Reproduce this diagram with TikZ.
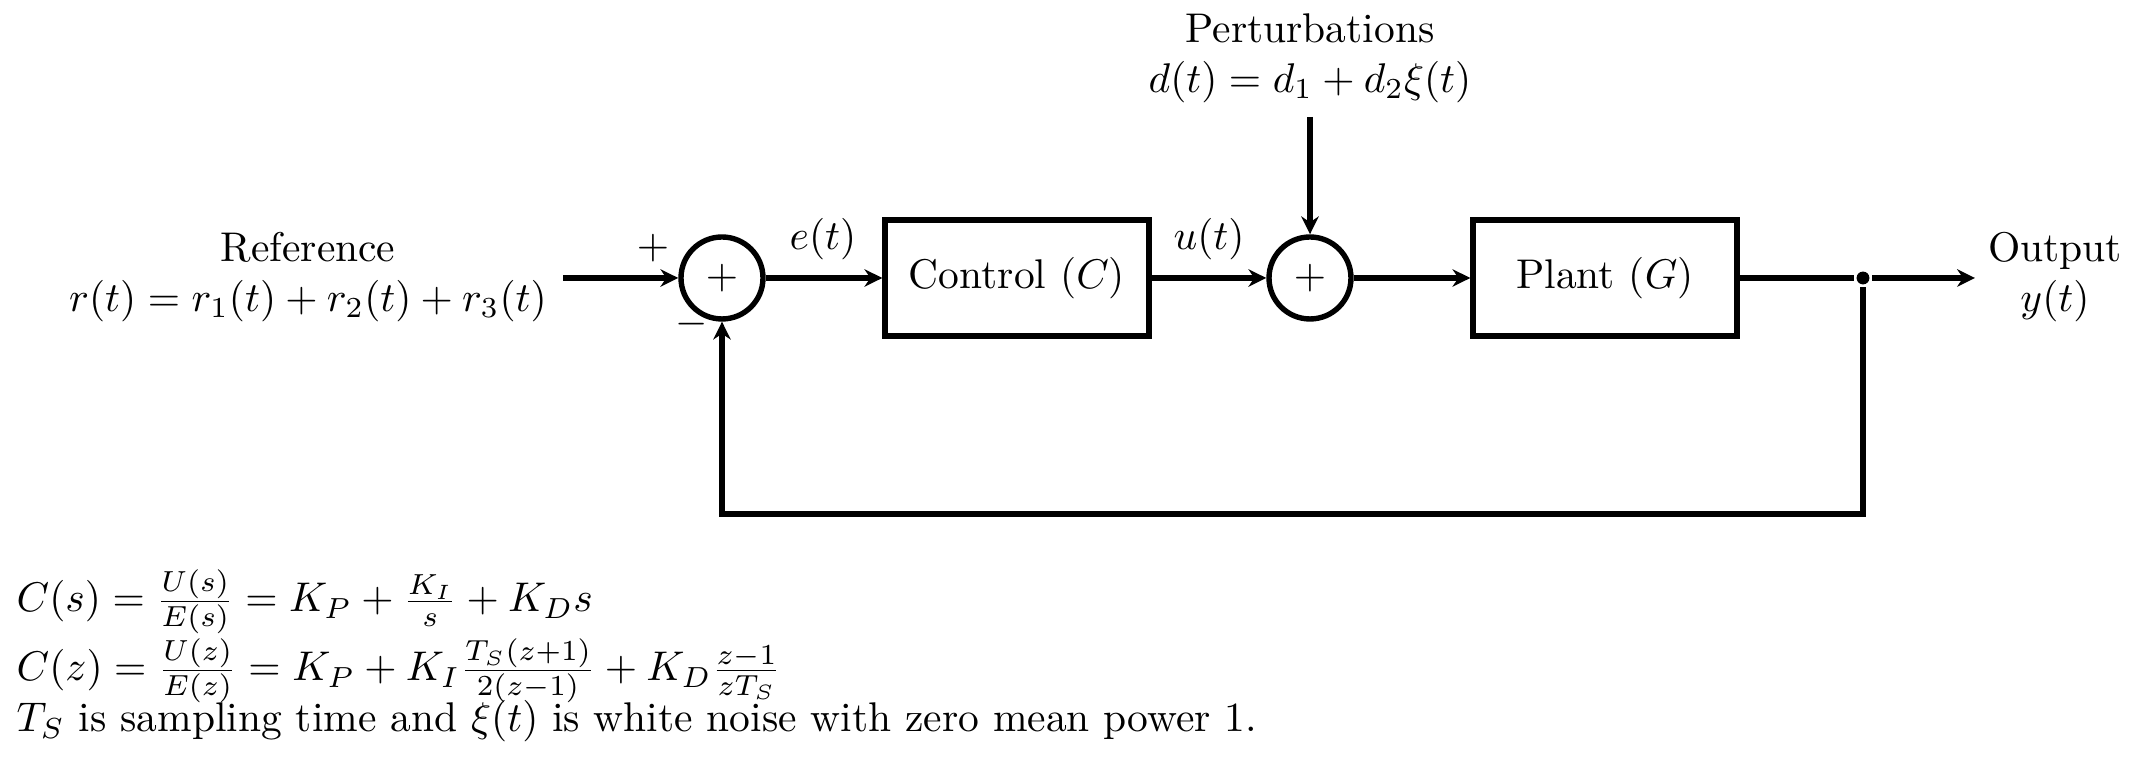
\documentclass[tikz,border=0pt]{standalone}
\usetikzlibrary{arrows.meta}
\begin{document}
\begin{tikzpicture}[x=0.241pt, y=-0.241pt, line width=1.3pt,
  >={Stealth[length=4.3pt,width=4.2pt,inset=1.4pt]},
  blockbox/.style={draw, rectangle, minimum width=63.6pt, minimum height=27.96pt, inner sep=0pt},
  sumnode/.style={draw, circle, minimum size=19.76pt, inner sep=0pt},
  lbl/.style={inner sep=0pt},
  multi/.style={align=center}]
\useasboundingbox (0,0) rectangle (2137,762);
% nodes
\node[multi] (ref) at (308,277) {Reference\\$r(t)=r_1(t)+r_2(t)+r_3(t)$};
\coordinate (in) at (563,278);
\node[sumnode] (s1) at (722,278) {$+$};
\node[blockbox] (ctrl) at (1017,278) {Control ($C$)};
\node[sumnode] (s2) at (1310,278) {$+$};
\node[multi] (pert) at (1310,58) {Perturbations\\$d(t)=d_1+d_2\xi(t)$};
\coordinate (pin) at (1310,117);
\node[blockbox] (plant) at (1605,278) {Plant ($G$)};
\node[circle, fill, inner sep=0pt, minimum size=3.1pt] (dot) at (1863,278) {};
\coordinate (out) at (1975,278);
\node[multi] (outl) at (2055,277) {Output\\$y(t)$};
\coordinate (fb) at (722,514);
% labels
\node[lbl] (plus) at (653,248) {$+$};
\node[lbl] (minus) at (692,324) {$-$};
\node[lbl, anchor=base] (et) at (823,250) {$e(t)$};
\node[lbl, anchor=base] (ut) at (1209,250) {$u(t)$};
% connectors
\draw[->] (in) -- (s1);
\draw[->] (s1) -- (ctrl);
\draw[->] (ctrl) -- (s2);
\draw[->] (pin) -- (s2);
\draw[->] (s2) -- (plant);
\draw (plant) -- (dot);
\draw[->] (dot) -- (out);
\draw[->] (dot) |- (fb) -- (s1);
% equations
\node[lbl, anchor=base west] (eq1) at (14,612) {$C(s)=\frac{U(s)}{E(s)}=K_P+\frac{K_I}{s}+K_Ds$};
\node[lbl, anchor=base west] (eq2) at (14,681) {$C(z)=\frac{U(z)}{E(z)}=K_P+K_I\frac{T_S(z+1)}{2(z-1)}+K_D\frac{z-1}{zT_S}$};
\node[lbl, anchor=base west] (eq3) at (14,732) {$T_S$ is sampling time and $\xi(t)$ is white noise with zero mean power 1.};
\end{tikzpicture}
\end{document}
